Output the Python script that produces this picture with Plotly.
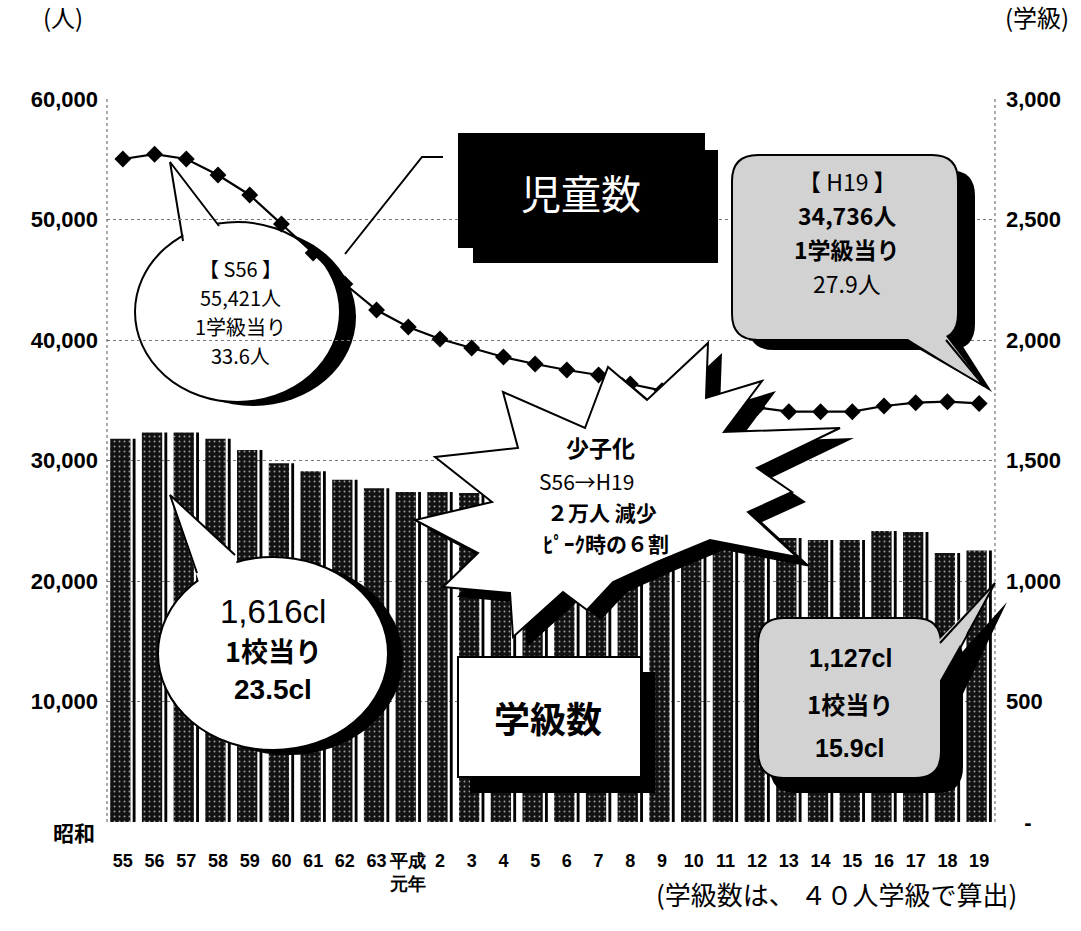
import plotly.graph_objects as go

# ---------------- data ----------------
years = ["55", "56", "57", "58", "59", "60", "61", "62", "63", "平成<br>元年",
         "2", "3", "4", "5", "6", "7", "8", "9", "10", "11", "12", "13",
         "14", "15", "16", "17", "18", "19"]
students = [55021, 55421, 55021, 53692, 52033, 49626, 47220, 44647, 42490, 41079,
            40083, 39336, 38589, 38008, 37510, 37095, 36349, 35800, 35300, 34800,
            34400, 34050, 34050, 34050, 34523, 34797, 34880, 34736]
classes = [1590, 1616, 1616, 1590, 1544, 1489, 1455, 1420, 1385, 1369,
           1369, 1365, 1350, 1330, 1305, 1280, 1255, 1230, 1210, 1190,
           1180, 1178, 1170, 1170, 1207, 1203, 1116, 1127]
left_ticks = [10000, 20000, 30000, 40000, 50000, 60000]
left_text = ["10,000", "20,000", "30,000", "40,000", "50,000", "60,000"]
right_ticks = [0, 500, 1000, 1500, 2000, 2500, 3000]
right_text = ["\u00a0\u00a0\u00a0-", "500", "1,000", "1,500", "2,000", "2,500", "3,000"]

# ---------------- geometry helpers (pixel -> paper) ----------------
FW, FH = 1081, 931
L, T, R, B = 107, 99, 995, 822
PW, PH = R - L, B - T


def px(x):
    return (x - L) / PW


def py(y):
    return (B - y) / PH


def poly(pts, close=True):
    s = "M " + " L ".join(f"{px(x):.5f},{py(y):.5f}" for x, y in pts)
    return s + (" Z" if close else "")


def rrect(x0, y0, x1, y1, r):
    p = lambda x, y: f"{px(x):.5f},{py(y):.5f}"
    return (f"M {p(x0 + r, y0)} L {p(x1 - r, y0)} Q {p(x1, y0)} {p(x1, y0 + r)} "
            f"L {p(x1, y1 - r)} Q {p(x1, y1)} {p(x1 - r, y1)} "
            f"L {p(x0 + r, y1)} Q {p(x0, y1)} {p(x0, y1 - r)} "
            f"L {p(x0, y0 + r)} Q {p(x0, y0)} {p(x0 + r, y0)} Z")


shapes = []


def add_path(path, fill="rgba(0,0,0,0)", lc="black", lw=0, layer="above"):
    shapes.append(dict(type="path", xref="paper", yref="paper", path=path,
                       fillcolor=fill, line=dict(color=lc, width=lw), layer=layer))


def add_ellipse(x0, y0, x1, y1, fill, lc="black", lw=0, layer="above"):
    shapes.append(dict(type="circle", xref="paper", yref="paper",
                       x0=px(x0), x1=px(x1), y0=py(y1), y1=py(y0),
                       fillcolor=fill, line=dict(color=lc, width=lw), layer=layer))


def add_line(pts, lw=2, color="black", dash="solid", layer="above"):
    shapes.append(dict(type="path", xref="paper", yref="paper", path=poly(pts, close=False),
                       fillcolor="rgba(0,0,0,0)", line=dict(color=color, width=lw, dash=dash),
                       layer=layer))


GRAYFILL = "#d2d2d2"

# plot-area dotted borders
add_line([(L, T), (L, B)], lw=1, color="#555", dash="dot")
add_line([(R, T), (R, B)], lw=1, color="#555", dash="dot")

# leader line to 児童数
add_line([(443, 157), (422, 157), (345, 254)], lw=2)

# 児童数 box
add_path(poly([(473, 150), (718, 150), (718, 263), (473, 263)]), fill="black")
add_path(poly([(458, 133), (705, 133), (705, 248), (458, 248)]), fill="black")

# S56 callout (ellipse with crescent shadow) - drawn under the line
BTW = "between"
add_ellipse(150, 228, 356, 406, "black", layer=BTW)
add_ellipse(135, 222, 340, 402, "white", lw=2, layer=BTW)
add_path(poly([(186, 250), (170, 162), (220, 226), (214, 250)]), fill="white", layer=BTW)
add_line([(183, 241), (170, 162), (219, 226)], lw=2, layer=BTW)

# H19 callout (rounded rect, halftone)
add_path(rrect(748, 170, 975, 350, 26), fill="black")
add_path(poly([(915, 345), (992, 392), (962, 345)]), fill="black")
add_path(rrect(732, 155, 958, 340, 26), fill=GRAYFILL, lw=2)
add_path(poly([(903, 336), (984, 386), (946, 336)]), fill=GRAYFILL)
add_line([(905, 340), (984, 386), (946, 340)], lw=2)

# starburst 少子化
star = [(503, 392), (585, 428), (608, 367), (647, 400), (708, 343), (706, 398),
        (762, 381), (724, 432), (840, 428), (757, 468), (792, 492), (748, 512),
        (797, 557), (710, 540), (657, 562), (613, 582), (587, 610), (563, 592),
        (513, 637), (510, 593), (443, 587), (478, 553), (415, 520), (492, 502),
        (435, 457), (518, 448)]
add_path(poly([(x + 14, y + 10) for x, y in star]), fill="black")
add_path(poly(star), fill="white", lw=2)

# 1,616cl callout
add_ellipse(172, 562, 403, 755, "black")
add_ellipse(158, 557, 388, 750, "white", lw=2)
add_path(poly([(200, 585), (170, 495), (235, 555), (240, 580)]), fill="white")
add_line([(197, 573), (170, 495), (235, 555)], lw=2)

# 学級数 box
add_path(poly([(470, 672), (655, 672), (655, 793), (470, 793)]), fill="black")
add_path(poly([(458, 657), (641, 657), (641, 777), (458, 777)]), fill="white", lw=2)

# 1,127cl callout
add_path(rrect(770, 633, 963, 793, 26), fill="black")
add_path(poly([(955, 660), (1007, 602), (960, 700)]), fill="black")
add_path(rrect(758, 618, 941, 778, 26), fill=GRAYFILL, lw=2)
add_path(poly([(936, 643), (995, 583), (938, 684)]), fill=GRAYFILL)
add_line([(940, 643), (995, 583), (942, 682)], lw=2)

# ---------------- annotations ----------------
JP = "Noto Sans CJK JP"
AR = "Liberation Sans, Arial"
annotations = []


def txt(x, y, s, size, color="black", family=JP, bold=False, xanchor="center"):
    annotations.append(dict(x=px(x), y=py(y), xref="paper", yref="paper", text=s,
                            showarrow=False, xanchor=xanchor, yanchor="middle",
                            font=dict(size=size, color=color, family=family,
                                      weight="bold" if bold else "normal")))


txt(63, 17, "(人)", 24)
txt(1037, 17, "(学級)", 24)
txt(74, 832, "昭和", 21, bold=True)
txt(836, 893, "(学級数は、 ４０人学級で算出)", 26)

txt(581, 192, "児童数", 40, color="white")

# S56
for yy, s in zip([268, 297, 326, 355], ["【 S56 】", "55,421人", "1学級当り", "33.6人"]):
    txt(240, yy, s, 20)

# H19
for yy, s, b in zip([181, 215, 249, 283], ["【 H19 】", "34,736人", "1学級当り", "27.9人"],
                    [False, True, True, False]):
    txt(847, yy, s, 23, bold=b)

# starburst
txt(600, 447, "少子化", 23, bold=True)
txt(586, 481, "S56→H19", 21)
txt(602, 512, "２万人 減少", 21, bold=True)
txt(606, 543, "ﾋﾟｰｸ時の６割", 21, bold=True)

# 1,616cl
txt(273, 611, "1,616cl", 33, family=AR)
txt(273, 650, "1校当り", 27, bold=True)
txt(273, 689, "23.5cl", 28, family=AR, bold=True)

txt(548, 717, "学級数", 36, bold=True)

# 1,127cl
txt(850, 658, "1,127cl", 25, family=AR, bold=True)
txt(850, 703, "1校当り", 24, bold=True)
txt(850, 748, "15.9cl", 25, family=AR, bold=True)

# ---------------- traces ----------------
bar_pattern = dict(shape=".", fgcolor="#9a9a9a", bgcolor="#121212", size=5,
                   solidity=0.12, fillmode="replace")
fig = go.Figure()
fig.add_trace(go.Bar(x=years, y=classes, yaxis="y", width=0.64, offset=-0.40,
                     marker=dict(color="#121212", line=dict(width=0), pattern=bar_pattern),
                     showlegend=False, hoverinfo="skip"))
fig.add_trace(go.Bar(x=years, y=classes, yaxis="y", width=0.09, offset=0.31,
                     marker=dict(color="black", line=dict(width=0)),
                     showlegend=False, hoverinfo="skip"))
fig.add_trace(go.Scatter(x=years, y=students, yaxis="y2", mode="lines+markers",
                         line=dict(color="black", width=2.2),
                         marker=dict(symbol="diamond", size=13, color="black"),
                         showlegend=False, hoverinfo="skip"))

TICKFONT = dict(family="Liberation Sans Narrow, Arial Narrow, Liberation Sans",
                size=22, color="black", weight="bold")

fig.update_layout(
    width=FW, height=FH,
    margin=dict(l=L, r=FW - R, t=T, b=FH - B, pad=0),
    paper_bgcolor="white", plot_bgcolor="white",
    barmode="overlay", showlegend=False,
    xaxis=dict(type="category", range=[-0.5, len(years) - 0.5], showgrid=False,
               showline=False, zeroline=False,
               ticks="", tickangle=0, ticklabelstandoff=26,
               tickfont=dict(family="Liberation Sans Narrow, Arial Narrow, Liberation Sans",
                             size=18, color="black", weight="bold")),
    yaxis=dict(side="right", range=[0, 3000], tickvals=right_ticks, ticktext=right_text,
               showgrid=True, gridcolor="#777", griddash="dot", gridwidth=1,
               zeroline=False, showline=False, ticks="", ticklabelstandoff=10,
               tickfont=TICKFONT),
    yaxis2=dict(side="left", overlaying="y", range=[0, 60000], tickvals=left_ticks,
                ticktext=left_text, showgrid=False, zeroline=False, showline=False,
                ticks="", ticklabelstandoff=8, tickfont=TICKFONT),
    shapes=shapes,
    annotations=annotations,
)

fig.write_html("out.html", config={"displayModeBar": False},
               post_script="document.body.style.margin='0';")
